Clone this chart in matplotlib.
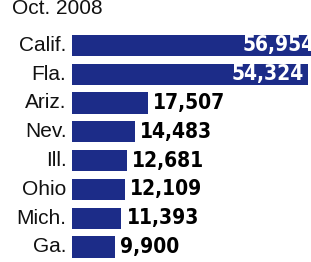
import matplotlib
matplotlib.use("Agg")
import matplotlib.pyplot as plt

states = ["Calif.", "Fla.", "Ariz.", "Nev.", "Ill.", "Ohio", "Mich.", "Ga."]
values = [56954, 54324, 17507, 14483, 12681, 12109, 11393, 9900]
title = "Oct. 2008"
inside = 2          # first two labels sit inside the bar

navy = "#1c2c88"
W, H = 311, 262
fig = plt.figure(figsize=(W / 100, H / 100), dpi=100)
# axes placed in pixel terms: bars start at x=72, rows 45.5 .. 247 px from top
ax = fig.add_axes([72 / W, (H - 261.4) / H, (W - 72) / W, 230.4 / H])
ax.set_xlim(0, (W - 72) / 4.34 * 1000)
ax.set_ylim(len(states) - 0.5, -0.5)
ax.axis("off")

ys = list(range(len(states)))
ax.barh(ys, values, height=0.73, color=navy, edgecolor="none")

vfont = dict(family="DejaVu Sans", fontstretch="condensed", fontweight="bold", fontsize=15)
for i, (s, v) in enumerate(zip(states, values)):
    ax.annotate(s, (0, i), xytext=(-4, 0), textcoords="offset points", ha="right", va="center",
                fontsize=15, family="Liberation Sans", color="#111111", annotation_clip=False)
    if i < inside:
        ax.annotate(f"{v:,}", (v, i), xytext=(-3, 0), textcoords="offset points", ha="right",
                    va="center", color="white", annotation_clip=False, **vfont)
    else:
        ax.annotate(f"{v:,}", (v, i), xytext=(3.6, 0), textcoords="offset points", ha="left",
                    va="center", color="black", annotation_clip=False, **vfont)

fig.text(12 / W, 1 - 9 / H, title, ha="left", va="center", fontsize=15,
         family="Liberation Sans", color="#111111")
fig.savefig("out.png", dpi=100)
